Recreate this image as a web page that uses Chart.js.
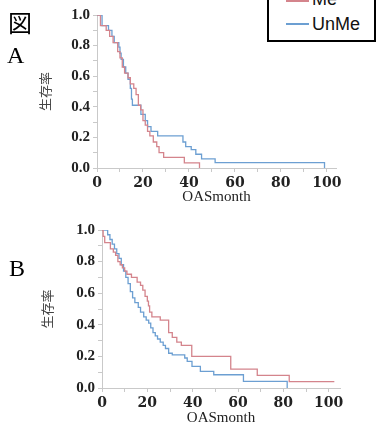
<!DOCTYPE html>
<html>
<head>
<meta charset="utf-8">
<script src="https://cdn.jsdelivr.net/npm/chart.js@4.4.1/dist/chart.umd.min.js"></script>
<style>
  body { margin: 0; width: 378px; height: 430px; background: #fff; position: relative; overflow: hidden; }
  canvas { position: absolute; left: 0; }
  #chartA { top: 0; }
  #chartB { top: 215px; }
  .mark { position: absolute; color: #000; white-space: nowrap; }
  #fig { left: 8px; top: 10px; font: 24px/24px "Noto Sans CJK JP"; }
  #labA { left: 7px; top: 43px; font: 24px/24px "Liberation Serif"; }
  #labB { left: 9px; top: 256px; font: 24px/24px "Liberation Serif"; }
  #legendBox { position: absolute; left: 267px; top: -6px; width: 109px; height: 48px; box-sizing: border-box; border: 2px solid #000; background: #fff; }
  .swatch { position: absolute; left: 286px; width: 23px; height: 2px; }
  .legText { position: absolute; left: 312px; font: 18px/18px "Liberation Sans"; color: #111; }
</style>
</head>
<body>
<canvas id="chartA" width="378" height="215"></canvas>
<canvas id="chartB" width="378" height="215"></canvas>
<div class="mark" id="fig">図</div>
<div class="mark" id="labA">A</div>
<div class="mark" id="labB">B</div>
<div id="legendBox"></div>
<div class="swatch" id="swMe" style="top:0px;"></div>
<div class="legText" style="top:-10px;">Me</div>
<div class="swatch" id="swUn" style="top:23px;"></div>
<div class="legText" style="top:15px;">UnMe</div>
<script>
// Kaplan-Meier steps (months, survival)
const aMeMonths = [0, 1.5, 4, 5.5, 7, 9, 10, 11, 12, 13.5, 14.5, 16, 17, 18, 19, 20, 21, 22, 23, 24.5, 26, 27, 29, 38, 44.6];
const aMeSurv   = [1, 0.93, 0.90, 0.86, 0.82, 0.76, 0.72, 0.66, 0.62, 0.59, 0.55, 0.52, 0.48, 0.41, 0.38, 0.31, 0.28, 0.24, 0.21, 0.17, 0.14, 0.10, 0.069, 0.034, 0];

const aUnMonths = [0, 2.2, 5, 6.5, 7.5, 9.5, 10, 10.5, 11.5, 12.5, 13.5, 14.5, 15, 15.4, 19.1, 21, 22, 23.5, 26.4, 37.4, 38.6, 41, 43, 45.5, 51.4, 99];
const aUnSurv   = [1, 0.93, 0.90, 0.86, 0.82, 0.79, 0.75, 0.71, 0.66, 0.62, 0.58, 0.52, 0.45, 0.41, 0.35, 0.31, 0.27, 0.24, 0.21, 0.17, 0.14, 0.12, 0.09, 0.06, 0.035, 0];

const bMeMonths = [0, 0.5, 1.2, 3.7, 5, 6, 7, 8, 9, 10, 11, 13, 15.5, 17, 18, 19, 20, 20.5, 21, 22, 25.7, 29.4, 31, 33, 35, 39.6, 56.8, 68.5, 82.6, 102.5];
const bMeSurv   = [1, 0.96, 0.92, 0.88, 0.86, 0.84, 0.80, 0.78, 0.76, 0.74, 0.72, 0.70, 0.67, 0.65, 0.62, 0.58, 0.55, 0.52, 0.48, 0.45, 0.43, 0.35, 0.32, 0.29, 0.27, 0.20, 0.12, 0.08, 0.04, 0.04];

const bUnMonths = [0, 2.5, 3.5, 4.5, 5.5, 6.5, 7.5, 8.5, 9.5, 10.5, 11.5, 12.5, 13.5, 14.5, 16, 17, 18.4, 19.5, 20.6, 21.5, 22.5, 23.5, 24.5, 25.7, 27, 28, 29.4, 31, 36.5, 37.6, 39.7, 43.4, 49.3, 62.4, 81.7];
const bUnSurv   = [1, 0.97, 0.94, 0.91, 0.88, 0.85, 0.82, 0.78, 0.74, 0.70, 0.66, 0.61, 0.57, 0.54, 0.51, 0.48, 0.45, 0.43, 0.41, 0.38, 0.35, 0.33, 0.31, 0.29, 0.27, 0.25, 0.22, 0.21, 0.19, 0.168, 0.137, 0.105, 0.084, 0.042, 0];

const xTickLabels = [0, 20, 40, 60, 80, 100];
const yTickLabels = [0, 0.2, 0.4, 0.6, 0.8, 1.0];

const meColor = "#d4848c";
const unColor = "#6c9fd2";
const axisColor = "#c9c9c9";

document.getElementById("swMe").style.background = meColor;
document.getElementById("swUn").style.background = unColor;

function toPoints(months, surv) {
  return months.map((m, i) => ({ x: m, y: surv[i] }));
}

function buildChart(id, me, un, cfg) {
  return new Chart(document.getElementById(id), {
    type: "line",
    data: {
      datasets: [
        { label: "Me", data: me, borderColor: meColor, borderWidth: 1.3, stepped: true, pointRadius: 0, fill: false },
        { label: "UnMe", data: un, borderColor: unColor, borderWidth: 1.3, stepped: true, pointRadius: 0, fill: false },
      ],
    },
    options: {
      responsive: false,
      animation: false,
      layout: { padding: { left: cfg.left, right: cfg.right, top: 15, bottom: 0 } },
      plugins: { legend: { display: false }, tooltip: { enabled: false } },
      scales: {
        x: {
          type: "linear",
          min: 0,
          max: cfg.xMax,
          afterFit: (s) => { s.height = cfg.xHeight; },
          grid: { drawOnChartArea: false, drawTicks: true, tickLength: 4, color: axisColor },
          border: { color: axisColor },
          ticks: {
            stepSize: 10,
            includeBounds: false,
            autoSkip: false,
            maxRotation: 0,
            padding: 3,
            color: "#222",
            font: { family: "DejaVu Serif", size: 14, weight: "bold" },
            callback: (v) => (xTickLabels.includes(v) ? String(v) : ""),
          },
          title: {
            display: true,
            text: "OASmonth",
            color: "#222",
            font: { family: "Liberation Serif", size: 15 },
            padding: { top: 0, bottom: cfg.titlePad },
          },
        },
        y: {
          min: 0,
          max: 1,
          afterFit: (s) => { s.width = 67; },
          grid: { drawOnChartArea: false, drawTicks: true, tickLength: 4, color: axisColor },
          border: { color: axisColor },
          ticks: {
            stepSize: 0.1,
            autoSkip: false,
            padding: 3,
            color: "#222",
            font: { family: "Liberation Serif", size: 15, weight: "bold" },
            callback: (v) => {
              const t = Math.round(v * 10) / 10;
              return yTickLabels.includes(t) ? t.toFixed(1) : "";
            },
          },
          title: {
            display: true,
            text: "生存率",
            color: "#444",
            font: { family: "Noto Sans CJK JP", size: 13 },
            padding: { top: cfg.yTitlePad, bottom: 0 },
          },
        },
      },
    },
  });
}

buildChart("chartA", toPoints(aMeMonths, aMeSurv), toPoints(aUnMonths, aUnSurv),
  { left: 30, right: 42, xMax: 104, xHeight: 47, titlePad: 9, yTitlePad: 7 });
buildChart("chartB", toPoints(bMeMonths, bMeSurv), toPoints(bUnMonths, bUnSurv),
  { left: 35, right: 38, xMax: 105, xHeight: 42, titlePad: 3, yTitlePad: 4 });
</script>
</body>
</html>
